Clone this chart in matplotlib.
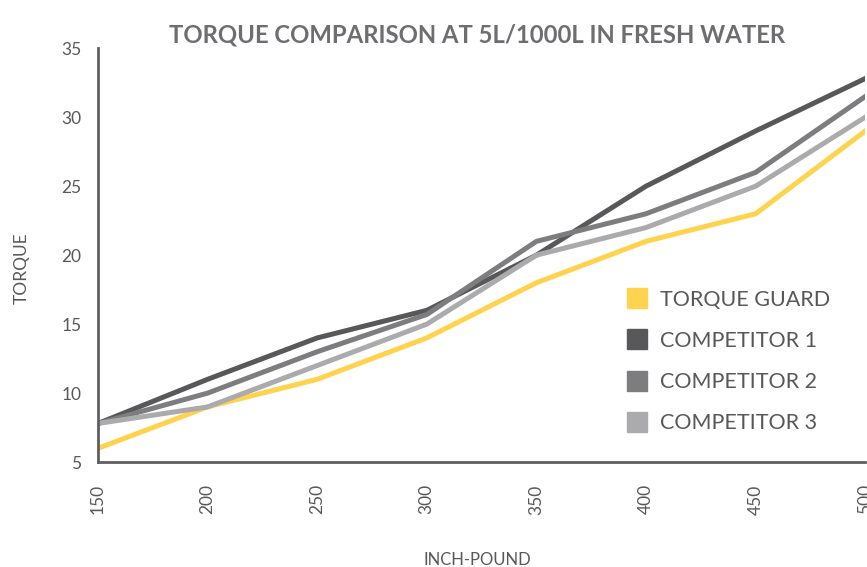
import matplotlib.pyplot as plt
from matplotlib.lines import Line2D

plt.rcParams['font.family'] = ['Lato', 'DejaVu Sans']

inch_pound = [150, 200, 250, 300, 350, 400, 450, 500]
torque_guard = [6, 9, 11, 14, 18, 21, 23, 29]
competitor_1 = [7.8, 11, 14, 16, 20, 25, 29, 32.8]
competitor_2 = [7.8, 10, 13, 15.7, 21, 23, 26, 31.5]
competitor_3 = [7.8, 9, 12, 15, 20, 22, 25, 30]

names = ['TORQUE GUARD', 'COMPETITOR 1', 'COMPETITOR 2', 'COMPETITOR 3']
colors = ['#FFD34E', '#58585A', '#7D7D80', '#ABABAD']
series = [torque_guard, competitor_1, competitor_2, competitor_3]
text_grey = '#58585A'

fig = plt.figure(figsize=(8.67, 5.67), dpi=100)
ax = fig.add_axes([0.113, 0.185, 0.885, 0.73])

for vals, c in zip(series, colors):
    ax.plot(inch_pound, vals, color=c, linewidth=3.6, solid_joinstyle='miter')

ax.set_xlim(150, 500)
ax.set_ylim(5, 35)
ax.set_xticks(inch_pound)
ax.set_xticklabels([str(v) for v in inch_pound], rotation=90)
ax.set_yticks(range(5, 36, 5))
ax.tick_params(length=0, labelsize=12.5, colors=text_grey)
ax.tick_params(axis='x', pad=16)
ax.tick_params(axis='y', pad=12)

for s in ['top', 'right']:
    ax.spines[s].set_visible(False)
for s in ['left', 'bottom']:
    ax.spines[s].set_color('#5f5f62')
    ax.spines[s].set_linewidth(2)

ax.set_title('TORQUE COMPARISON AT 5L/1000L IN FRESH WATER', fontsize=17.2,
             fontweight='bold', color='#6D6E71', pad=4, x=0.494)
fig.text(0.551, 2 / 567, 'INCH-POUND', ha='center', va='baseline',
         fontsize=12, color=text_grey)
fig.text(0.025, 0.527, 'TORQUE', ha='center', va='center', rotation=90,
         fontsize=12.5, color=text_grey)

handles = [Line2D([], [], marker='s', linestyle='none', markersize=14,
                  markerfacecolor=c, markeredgecolor=c) for c in colors]
leg = ax.legend(handles, names, loc='center left', bbox_to_anchor=(0.688, 0.243),
                frameon=False, fontsize=15.5, labelspacing=0.98, borderpad=0,
                borderaxespad=0, handletextpad=0.6, handlelength=1.0)
for t in leg.get_texts():
    t.set_color(text_grey)

fig.savefig('out.png', dpi=100)
